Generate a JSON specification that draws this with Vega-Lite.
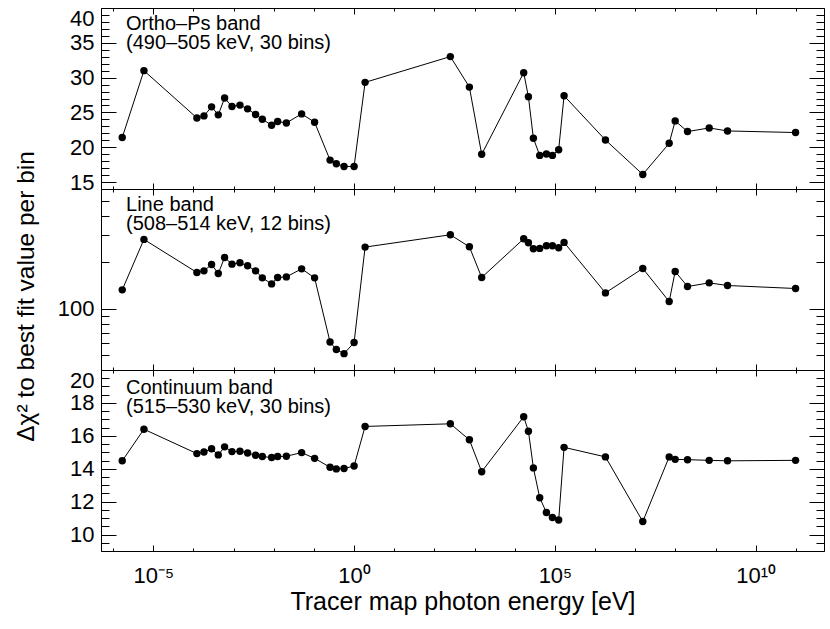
{
  "$schema": "https://vega.github.io/schema/vega-lite/v6.json",
  "padding": {"left": 12, "top": 6, "right": 5, "bottom": 5},
  "spacing": 0,
  "bounds": "flush",
  "config": {
    "font": "Liberation Sans",
    "view": {"stroke": "black", "strokeWidth": 1},
    "axis": {"domain": false, "grid": false, "tickColor": "black", "labelColor": "black", "titleColor": "black", "labelFont": "Liberation Sans", "titleFont": "Liberation Sans", "titleFontWeight": "normal", "tickWidth": 1}
  },
  "datasets": {
    "scan": [
      {"energy": 1.69e-6, "ortho": 21.39, "line": 132.7, "cont": 14.48},
      {"energy": 5.86e-6, "ortho": 31.0, "line": 282.3, "cont": 16.40},
      {"energy": 1.22e-4, "ortho": 24.21, "line": 172.1, "cont": 14.92},
      {"energy": 1.83e-4, "ortho": 24.50, "line": 176.3, "cont": 15.02},
      {"energy": 2.83e-4, "ortho": 25.80, "line": 194.0, "cont": 15.21},
      {"energy": 4.16e-4, "ortho": 24.65, "line": 169.5, "cont": 14.84},
      {"energy": 5.97e-4, "ortho": 27.06, "line": 215.5, "cont": 15.33},
      {"energy": 9.12e-4, "ortho": 25.86, "line": 194.9, "cont": 15.04},
      {"energy": 1.44e-3, "ortho": 26.05, "line": 198.8, "cont": 15.06},
      {"energy": 2.23e-3, "ortho": 25.51, "line": 190.1, "cont": 14.96},
      {"energy": 3.53e-3, "ortho": 24.70, "line": 176.3, "cont": 14.82},
      {"energy": 5.19e-3, "ortho": 24.03, "line": 158.8, "cont": 14.74},
      {"energy": 8.84e-3, "ortho": 23.16, "line": 145.1, "cont": 14.68},
      {"energy": 1.25e-2, "ortho": 23.69, "line": 159.7, "cont": 14.74},
      {"energy": 2.06e-2, "ortho": 23.49, "line": 161.1, "cont": 14.76},
      {"energy": 4.94e-2, "ortho": 24.79, "line": 181.7, "cont": 14.98},
      {"energy": 0.104, "ortho": 23.59, "line": 158.8, "cont": 14.63},
      {"energy": 0.252, "ortho": 18.15, "line": 60.8, "cont": 14.09},
      {"energy": 0.361, "ortho": 17.63, "line": 54.3, "cont": 13.99},
      {"energy": 0.562, "ortho": 17.24, "line": 51.1, "cont": 14.01},
      {"energy": 1.0, "ortho": 17.24, "line": 60.3, "cont": 14.17},
      {"energy": 1.88, "ortho": 29.32, "line": 251.6, "cont": 16.57},
      {"energy": 249, "ortho": 33.02, "line": 302.5, "cont": 16.73},
      {"energy": 742, "ortho": 28.64, "line": 252.7, "cont": 15.76},
      {"energy": 1502, "ortho": 18.98, "line": 159.7, "cont": 13.82},
      {"energy": 16700, "ortho": 30.71, "line": 284.9, "cont": 17.16},
      {"energy": 21900, "ortho": 27.24, "line": 268.3, "cont": 16.28},
      {"energy": 29100, "ortho": 21.28, "line": 245.3, "cont": 14.05},
      {"energy": 41800, "ortho": 18.83, "line": 246.7, "cont": 12.24},
      {"energy": 61400, "ortho": 19.02, "line": 256.4, "cont": 11.34},
      {"energy": 86600, "ortho": 18.83, "line": 256.4, "cont": 11.04},
      {"energy": 124000, "ortho": 19.65, "line": 248.9, "cont": 10.88},
      {"energy": 169000, "ortho": 27.39, "line": 269.9, "cont": 15.30},
      {"energy": 1.81e6, "ortho": 21.04, "line": 126.8, "cont": 14.72},
      {"energy": 1.54e7, "ortho": 16.09, "line": 182.8, "cont": 10.79},
      {"energy": 6.99e7, "ortho": 20.56, "line": 111.4, "cont": 14.72},
      {"energy": 9.86e7, "ortho": 23.78, "line": 174.7, "cont": 14.57},
      {"energy": 2.0e8, "ortho": 22.25, "line": 139.5, "cont": 14.55},
      {"energy": 6.93e8, "ortho": 22.77, "line": 147.3, "cont": 14.51},
      {"energy": 1.98e9, "ortho": 22.34, "line": 141.6, "cont": 14.48},
      {"energy": 9.8e10, "ortho": 22.11, "line": 135.4, "cont": 14.51}
    ],
    "notes": [
      {"panel": "ortho", "energy": 2.1e-6, "value": 36.83, "text": "Ortho–Ps band\n(490–505 keV, 30 bins)"},
      {"panel": "line", "energy": 2.1e-6, "value": 429.4, "text": "Line band\n(508–514 keV, 12 bins)"},
      {"panel": "cont", "energy": 2.1e-6, "value": 18.54, "text": "Continuum band\n(515–530 keV, 30 bins)"}
    ]
  },
  "vconcat": [
    {
      "width": 723, "height": 181,
      "resolve": {"axis": {"x": "independent", "y": "independent"}},
      "layer": [
        {
          "data": {"name": "scan"},
          "mark": {"type": "line", "color": "black", "strokeWidth": 1},
          "encoding": {
            "x": {"field": "energy", "type": "quantitative", "scale": {"type": "log", "domain": [5e-7, 5e11], "nice": false},
              "axis": {"orient": "bottom", "offset": -6, "tickSize": 6, "labels": false, "title": null, "values": [1e-5, 1, 1e5, 1e10]}},
            "y": {"field": "ortho", "type": "quantitative", "scale": {"domain": [14, 40], "nice": false, "zero": false},
              "axis": {"orient": "left", "offset": -15, "tickSize": 15, "title": null, "values": [15, 20, 25, 30, 35, 40], "labelFontSize": 22, "labelPadding": 7, "labelFlush": true}}
          }
        },
        {
          "data": {"name": "scan"},
          "mark": {"type": "circle", "color": "black", "size": 55, "opacity": 1},
          "encoding": {
            "x": {"field": "energy", "type": "quantitative", "scale": {"type": "log", "domain": [5e-7, 5e11], "nice": false},
              "axis": {"orient": "top", "offset": -6, "tickSize": 6, "labels": false, "title": null, "values": [1e-5, 1, 1e5, 1e10]}},
            "y": {"field": "ortho", "type": "quantitative", "scale": {"domain": [14, 40], "nice": false, "zero": false},
              "axis": {"orient": "right", "offset": -15, "tickSize": 15, "labels": false, "title": null, "values": [15, 20, 25, 30, 35, 40]}}
          }
        },
        {
          "data": {"name": "scan"},
          "mark": {"type": "circle", "opacity": 0},
          "encoding": {
            "x": {"field": "energy", "type": "quantitative", "scale": {"type": "log", "domain": [5e-7, 5e11], "nice": false},
              "axis": {"orient": "bottom", "offset": -3, "tickSize": 3, "labels": false, "title": null, "values": [1e-6, 1e-4, 1e-3, 1e-2, 0.1, 10, 100, 1000, 1e4, 1e6, 1e7, 1e8, 1e9, 1e11]}},
            "y": {"field": "ortho", "type": "quantitative", "scale": {"domain": [14, 40], "nice": false, "zero": false},
              "axis": {"orient": "left", "offset": -8, "tickSize": 8, "labels": false, "title": null, "values": [14, 16, 17, 18, 19, 21, 22, 23, 24, 26, 27, 28, 29, 31, 32, 33, 34, 36, 37, 38, 39]}}
          }
        },
        {
          "data": {"name": "scan"},
          "mark": {"type": "circle", "opacity": 0},
          "encoding": {
            "x": {"field": "energy", "type": "quantitative", "scale": {"type": "log", "domain": [5e-7, 5e11], "nice": false},
              "axis": {"orient": "top", "offset": -3, "tickSize": 3, "labels": false, "title": null, "values": [1e-6, 1e-4, 1e-3, 1e-2, 0.1, 10, 100, 1000, 1e4, 1e6, 1e7, 1e8, 1e9, 1e11]}},
            "y": {"field": "ortho", "type": "quantitative", "scale": {"domain": [14, 40], "nice": false, "zero": false},
              "axis": {"orient": "right", "offset": -8, "tickSize": 8, "labels": false, "title": null, "values": [14, 16, 17, 18, 19, 21, 22, 23, 24, 26, 27, 28, 29, 31, 32, 33, 34, 36, 37, 38, 39]}}
          }
        },
        {
          "data": {"name": "notes"},
          "transform": [{"filter": "datum.panel === 'ortho'"}],
          "mark": {"type": "text", "align": "left", "baseline": "alphabetic", "fontSize": 20, "lineBreak": "\n", "lineHeight": 19, "color": "black"},
          "encoding": {
            "x": {"field": "energy", "type": "quantitative", "scale": {"type": "log", "domain": [5e-7, 5e11], "nice": false}, "axis": null},
            "y": {"field": "value", "type": "quantitative", "scale": {"domain": [14, 40], "nice": false, "zero": false}, "axis": null},
            "text": {"field": "text"}
          }
        }
      ]
    },
    {
      "width": 723, "height": 181,
      "resolve": {"axis": {"x": "independent", "y": "independent"}},
      "layer": [
        {
          "data": {"name": "scan"},
          "mark": {"type": "line", "color": "black", "strokeWidth": 1},
          "encoding": {
            "x": {"field": "energy", "type": "quantitative", "scale": {"type": "log", "domain": [5e-7, 5e11], "nice": false},
              "axis": {"orient": "bottom", "offset": -6, "tickSize": 6, "labels": false, "title": null, "values": [1e-5, 1, 1e5, 1e10]}},
            "y": {"field": "line", "type": "quantitative", "scale": {"type": "log", "domain": [40, 600], "nice": false},
              "axis": {"orient": "left", "offset": -15, "tickSize": 15, "values": [100], "labelExpr": "'100'", "labelFontSize": 22, "labelPadding": 7, "labelFlush": false,
                "title": "Δχ² to best fit value per bin", "titleFontSize": 24.5, "titleX": -83, "titleY": 107, "titleBaseline": "alphabetic", "titleAngle": -90, "titleAlign": "center"}}
          }
        },
        {
          "data": {"name": "scan"},
          "mark": {"type": "circle", "color": "black", "size": 55, "opacity": 1},
          "encoding": {
            "x": {"field": "energy", "type": "quantitative", "scale": {"type": "log", "domain": [5e-7, 5e11], "nice": false},
              "axis": {"orient": "top", "offset": -6, "tickSize": 6, "labels": false, "title": null, "values": [1e-5, 1, 1e5, 1e10]}},
            "y": {"field": "line", "type": "quantitative", "scale": {"type": "log", "domain": [40, 600], "nice": false},
              "axis": {"orient": "right", "offset": -15, "tickSize": 15, "labels": false, "title": null, "values": [100]}}
          }
        },
        {
          "data": {"name": "scan"},
          "mark": {"type": "circle", "opacity": 0},
          "encoding": {
            "x": {"field": "energy", "type": "quantitative", "scale": {"type": "log", "domain": [5e-7, 5e11], "nice": false},
              "axis": {"orient": "bottom", "offset": -3, "tickSize": 3, "labels": false, "title": null, "values": [1e-6, 1e-4, 1e-3, 1e-2, 0.1, 10, 100, 1000, 1e4, 1e6, 1e7, 1e8, 1e9, 1e11]}},
            "y": {"field": "line", "type": "quantitative", "scale": {"type": "log", "domain": [40, 600], "nice": false},
              "axis": {"orient": "left", "offset": -8, "tickSize": 8, "labels": false, "title": null, "values": [50, 60, 70, 80, 90, 200, 300, 400, 500]}}
          }
        },
        {
          "data": {"name": "scan"},
          "mark": {"type": "circle", "opacity": 0},
          "encoding": {
            "x": {"field": "energy", "type": "quantitative", "scale": {"type": "log", "domain": [5e-7, 5e11], "nice": false},
              "axis": {"orient": "top", "offset": -3, "tickSize": 3, "labels": false, "title": null, "values": [1e-6, 1e-4, 1e-3, 1e-2, 0.1, 10, 100, 1000, 1e4, 1e6, 1e7, 1e8, 1e9, 1e11]}},
            "y": {"field": "line", "type": "quantitative", "scale": {"type": "log", "domain": [40, 600], "nice": false},
              "axis": {"orient": "right", "offset": -8, "tickSize": 8, "labels": false, "title": null, "values": [50, 60, 70, 80, 90, 200, 300, 400, 500]}}
          }
        },
        {
          "data": {"name": "notes"},
          "transform": [{"filter": "datum.panel === 'line'"}],
          "mark": {"type": "text", "align": "left", "baseline": "alphabetic", "fontSize": 20, "lineBreak": "\n", "lineHeight": 19, "color": "black"},
          "encoding": {
            "x": {"field": "energy", "type": "quantitative", "scale": {"type": "log", "domain": [5e-7, 5e11], "nice": false}, "axis": null},
            "y": {"field": "value", "type": "quantitative", "scale": {"type": "log", "domain": [40, 600], "nice": false}, "axis": null},
            "text": {"field": "text"}
          }
        }
      ]
    },
    {
      "width": 723, "height": 181,
      "resolve": {"axis": {"x": "independent", "y": "independent"}},
      "layer": [
        {
          "data": {"name": "scan"},
          "mark": {"type": "line", "color": "black", "strokeWidth": 1},
          "encoding": {
            "x": {"field": "energy", "type": "quantitative", "scale": {"type": "log", "domain": [5e-7, 5e11], "nice": false},
              "axis": {"orient": "bottom", "offset": -6, "tickSize": 6, "values": [1e-5, 1, 1e5, 1e10],
                "labelExpr": "datum.value < 1e-4 ? '10⁻⁵' : datum.value < 10 ? '10⁰' : datum.value < 1e6 ? '10⁵' : '10¹⁰'",
                "labelFontSize": 22, "labelBaseline": "alphabetic", "labelPadding": 31, "labelFlush": false,
                "title": "Tracer map photon energy [eV]", "titleFontSize": 25, "titleY": 64, "titleBaseline": "alphabetic"}},
            "y": {"field": "cont", "type": "quantitative", "scale": {"domain": [9, 20], "nice": false, "zero": false},
              "axis": {"orient": "left", "offset": -15, "tickSize": 15, "title": null, "values": [10, 12, 14, 16, 18, 20], "labelFontSize": 22, "labelPadding": 7, "labelFlush": true}}
          }
        },
        {
          "data": {"name": "scan"},
          "mark": {"type": "circle", "color": "black", "size": 55, "opacity": 1},
          "encoding": {
            "x": {"field": "energy", "type": "quantitative", "scale": {"type": "log", "domain": [5e-7, 5e11], "nice": false},
              "axis": {"orient": "top", "offset": -6, "tickSize": 6, "labels": false, "title": null, "values": [1e-5, 1, 1e5, 1e10]}},
            "y": {"field": "cont", "type": "quantitative", "scale": {"domain": [9, 20], "nice": false, "zero": false},
              "axis": {"orient": "right", "offset": -15, "tickSize": 15, "labels": false, "title": null, "values": [10, 12, 14, 16, 18, 20]}}
          }
        },
        {
          "data": {"name": "scan"},
          "mark": {"type": "circle", "opacity": 0},
          "encoding": {
            "x": {"field": "energy", "type": "quantitative", "scale": {"type": "log", "domain": [5e-7, 5e11], "nice": false},
              "axis": {"orient": "bottom", "offset": -3, "tickSize": 3, "labels": false, "title": null, "values": [1e-6, 1e-4, 1e-3, 1e-2, 0.1, 10, 100, 1000, 1e4, 1e6, 1e7, 1e8, 1e9, 1e11]}},
            "y": {"field": "cont", "type": "quantitative", "scale": {"domain": [9, 20], "nice": false, "zero": false},
              "axis": {"orient": "left", "offset": -8, "tickSize": 8, "labels": false, "title": null, "values": [9, 9.5, 10.5, 11, 11.5, 12.5, 13, 13.5, 14.5, 15, 15.5, 16.5, 17, 17.5, 18.5, 19, 19.5]}}
          }
        },
        {
          "data": {"name": "scan"},
          "mark": {"type": "circle", "opacity": 0},
          "encoding": {
            "x": {"field": "energy", "type": "quantitative", "scale": {"type": "log", "domain": [5e-7, 5e11], "nice": false},
              "axis": {"orient": "top", "offset": -3, "tickSize": 3, "labels": false, "title": null, "values": [1e-6, 1e-4, 1e-3, 1e-2, 0.1, 10, 100, 1000, 1e4, 1e6, 1e7, 1e8, 1e9, 1e11]}},
            "y": {"field": "cont", "type": "quantitative", "scale": {"domain": [9, 20], "nice": false, "zero": false},
              "axis": {"orient": "right", "offset": -8, "tickSize": 8, "labels": false, "title": null, "values": [9, 9.5, 10.5, 11, 11.5, 12.5, 13, 13.5, 14.5, 15, 15.5, 16.5, 17, 17.5, 18.5, 19, 19.5]}}
          }
        },
        {
          "data": {"name": "notes"},
          "transform": [{"filter": "datum.panel === 'cont'"}],
          "mark": {"type": "text", "align": "left", "baseline": "alphabetic", "fontSize": 20, "lineBreak": "\n", "lineHeight": 19, "color": "black"},
          "encoding": {
            "x": {"field": "energy", "type": "quantitative", "scale": {"type": "log", "domain": [5e-7, 5e11], "nice": false}, "axis": null},
            "y": {"field": "value", "type": "quantitative", "scale": {"domain": [9, 20], "nice": false, "zero": false}, "axis": null},
            "text": {"field": "text"}
          }
        }
      ]
    }
  ]
}
